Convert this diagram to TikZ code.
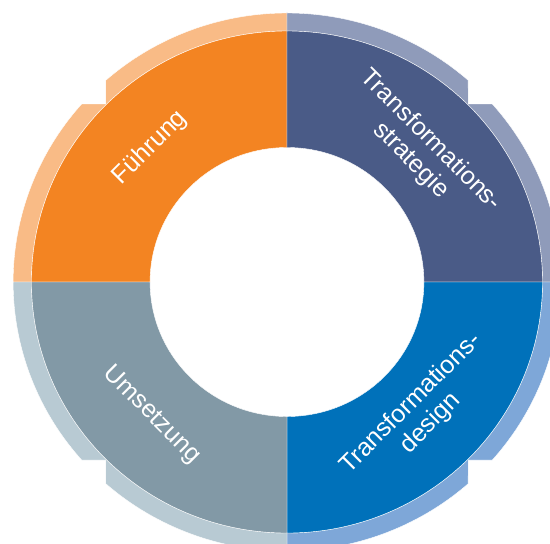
\documentclass[tikz,border=0pt]{standalone}
\usepackage{fontspec}
\setmainfont{Liberation Sans}
\usepackage{tikz}

\definecolor{fuehrungcol}{HTML}{F38422}
\definecolor{fuehrunglight}{HTML}{F9BB86}
\definecolor{strategiecol}{HTML}{4A5B87}
\definecolor{strategielight}{HTML}{8F9BBA}
\definecolor{designcol}{HTML}{0071BA}
\definecolor{designlight}{HTML}{7EA7D8}
\definecolor{umsetzungcol}{HTML}{8299A6}
\definecolor{umsetzunglight}{HTML}{B8CAD3}

\tikzset{
  band/.style={draw=white, line width=0.4pt},
  seglabel/.style={text=white, align=center, font=\fontsize{25}{28}\selectfont}
}

\begin{document}
\begin{tikzpicture}[x=1.018pt, y=1pt]
\useasboundingbox (-281.9,-261) rectangle (258.35,282);
\clip (-281.9,-261) rectangle (258.35,282);

% light outer band, notched at the diagonals
\foreach \s/\col in {90/fuehrunglight, 0/strategielight, 270/designlight, 180/umsetzunglight}
  \fill[\col, band] (\s:269) arc[start angle=\s, end angle=\s+41.43, radius=269]
    -- ({\s+45}:251.73) -- ({\s+48.57}:269)
    arc[start angle=\s+48.57, end angle=\s+90, radius=269]
    -- ({\s+90}:251) arc[start angle=\s+90, end angle=\s, radius=251] -- cycle;

% coloured ring
\foreach \s/\col in {90/fuehrungcol, 0/strategiecol, 270/designcol, 180/umsetzungcol}
  \fill[\col, band] (\s:251) arc[start angle=\s, end angle=\s+90, radius=251]
    -- ({\s+90}:134.5) arc[start angle=\s+90, end angle=\s, radius=134.5] -- cycle;

\node[seglabel, rotate=45] (fuehrung) at (135:190) {Führung};
\node[seglabel, rotate=-45] (strategie) at (45:186) {Transformations-\\strategie};
\node[seglabel, rotate=45] (design) at (-45:186) {Transformations-\\design};
\node[seglabel, rotate=-45] (umsetzung) at (225:188) {Umsetzung};
\end{tikzpicture}
\end{document}
